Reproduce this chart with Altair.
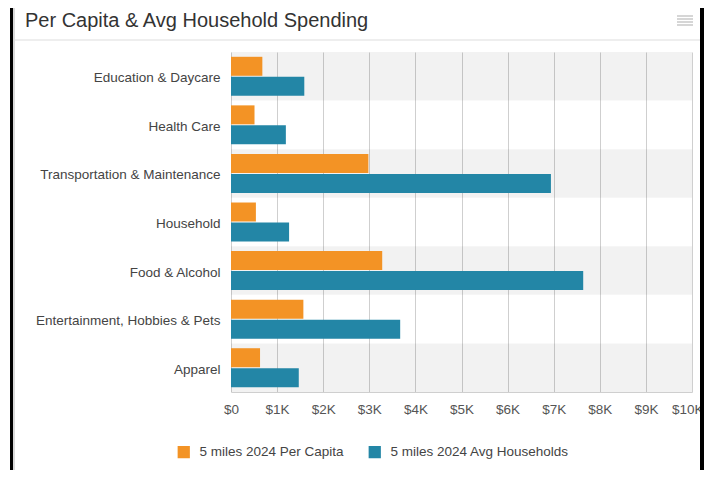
import altair as alt
import pandas as pd

categories = [
    "Education & Daycare",
    "Health Care",
    "Transportation & Maintenance",
    "Household",
    "Food & Alcohol",
    "Entertainment, Hobbies & Pets",
    "Apparel",
]
series = ["5 miles 2024 Per Capita", "5 miles 2024 Avg Households"]
per_capita = [680, 510, 2980, 540, 3280, 1570, 630]
avg_households = [1590, 1190, 6940, 1260, 7640, 3670, 1470]
x_ticks = [0, 1000, 2000, 3000, 4000, 5000, 6000, 7000, 8000, 9000, 10000]
striped = ["Education & Daycare", "Transportation & Maintenance", "Food & Alcohol", "Apparel"]
colors = ["#F39325", "#2386A6"]

FONT = "Liberation Sans"
FS = 13.5

rows = []
for c, a, b in zip(categories, per_capita, avg_households):
    rows.append({"category": c, "series": series[0], "value": a})
    rows.append({"category": c, "series": series[1], "value": b})
df = pd.DataFrame(rows)
stripes = pd.DataFrame({"category": striped, "start": [0] * len(striped), "end": [10000] * len(striped)})
dummy = pd.DataFrame({"d": [0]})

y_enc = alt.Y(
    "category:N",
    sort=categories,
    scale=alt.Scale(paddingInner=0, paddingOuter=0),
    axis=alt.Axis(title=None, domain=False, ticks=False, grid=False, labelPadding=11,
                  labelOffset=2,
                  labelFontSize=FS, labelColor="#444", labelFont=FONT, labelLimit=300),
)
x_axis = alt.Axis(
    title=None, values=x_ticks,
    labelExpr="datum.value == 0 ? '$0' : '$' + (datum.value / 1000) + 'K'",
    grid=True, gridColor="#cfcfcf", domainColor="#cfcfcf", ticks=False,
    labelPadding=10, labelFontSize=FS, labelColor="#555", labelFont=FONT, labelFlush=False,
    labelAlign=alt.ExprRef(expr="datum.value == 10000 ? 'right' : 'center'"),
    labelOffset=alt.ExprRef(expr="datum.value == 10000 ? 11 : 0"),
)
x_scale = alt.Scale(domain=[0, 10000], nice=False)

stripe_layer = alt.Chart(stripes).mark_rect(color="#000000", opacity=0.05).encode(
    y=y_enc,
    x=alt.X("start:Q", scale=x_scale, axis=x_axis),
    x2="end:Q",
)

bars = alt.Chart(df).mark_bar().encode(
    y=y_enc,
    yOffset=alt.YOffset("series:N", sort=series, scale=alt.Scale(paddingInner=0.05, paddingOuter=0.24)),
    x=alt.X("value:Q", scale=x_scale, axis=x_axis),
    color=alt.Color(
        "series:N", sort=series,
        scale=alt.Scale(domain=series, range=colors),
        legend=alt.Legend(
            title=None, orient="none", legendX=-54, legendY=393, direction="horizontal",
            symbolType="square", symbolSize=150, symbolStrokeWidth=0, labelFontSize=FS,
            labelColor="#444", labelFont=FONT, labelOffset=9, columnPadding=24, labelLimit=400,
        ),
    ),
)


def rule(x, x2, y, y2, color, width):
    return alt.Chart(dummy).mark_rule(color=color, strokeWidth=width).encode(
        x=alt.value(x), x2=alt.value(x2), y=alt.value(y), y2=alt.value(y2)
    )


decor = [
    rule(-219.5, -219.5, -44, 418, "#000000", 3),
    rule(-217, -217, -44, 418, "#cccccc", 1.5),
    rule(471, 471, -44, 418, "#000000", 4),
    rule(-217, 469, -12, -12, "#dddddd", 1),
]
for yy in [-36, -33, -30, -27]:
    decor.append(rule(446, 462, yy, yy, "#c8c8c8", 1.5))

title = alt.Chart(dummy).mark_text(
    text="Per Capita & Avg Household Spending", align="left", baseline="alphabetic",
    fontSize=20, font=FONT, color="#333333",
).encode(x=alt.value(-206), y=alt.value(-25))

chart = alt.layer(stripe_layer, bars, title, *decor).properties(
    width=461, height=340,
    padding={"left": 223, "top": 44, "right": 12, "bottom": 78},
    autosize=alt.AutoSizeParams(type="none"),
    background="white",
).configure_view(strokeWidth=0)

chart.save("out.html", embed_options={"renderer": "svg", "actions": False})
